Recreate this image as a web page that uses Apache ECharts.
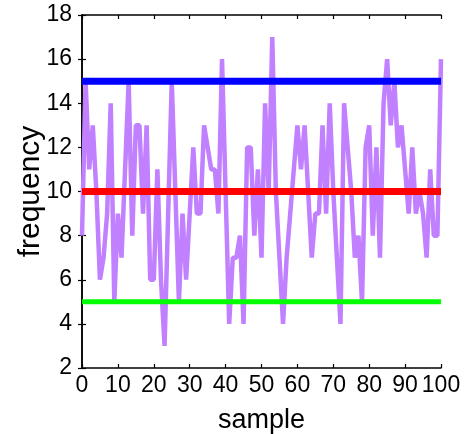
<!DOCTYPE html>
<html>
<head>
<meta charset="utf-8">
<script src="https://cdn.jsdelivr.net/npm/echarts@6/dist/echarts.min.js"></script>
<style>html,body{margin:0;padding:0;background:#fff}#c{width:466px;height:434px}</style>
</head>
<body>
<div id="c"></div>
<script>
// sample index 0..100 and frequency values
var frequency = [8,15,11,13,10,6,7,9,14,5,9,7,11,15,8,13,13,9,13,6,6,11,6,3,9,15,10,5,9,6,9,12,9,9,13,12,11,11,9,16,10,4,7,7,8,4,12,12,8,11,7,14,10,17,10,7,4,7,9,11,13,11,13,10,7,9,9,13,9,14,10,7,4,14,12,10,7,8,5,12,13,8,12,7,14,16,13,15,12,13,11,9,12,9,10,9,7,11,8,8,16];
var samples = frequency.map(function (_, i) { return i; });
var levelValues = [15, 10, 5];
var levelColors = ['#0000ff', '#ff0000', '#00ff00'];
var xTicks = [0, 10, 20, 30, 40, 50, 60, 70, 80, 90, 100];
var yTicks = [2, 4, 6, 8, 10, 12, 14, 16, 18];

var FONT = "'Liberation Sans',Arial,sans-serif";
var chart = echarts.init(document.getElementById('c'));

var series = [{
  type: 'line',
  data: samples.map(function (s, i) { return [s, frequency[i]]; }),
  symbol: 'none',
  lineStyle: { color: '#c080ff', width: 4.5 },
  z: 2,
  animation: false
}];
levelValues.forEach(function (v, k) {
  series.push({
    type: 'line',
    data: [[xTicks[0], v], [xTicks[xTicks.length - 1], v]],
    symbol: 'none',
    lineStyle: { color: levelColors[k], width: k === 2 ? 5 : 7 },
    z: 3,
    animation: false
  });
});

var axisCommon = {
  axisLine: { show: true, lineStyle: { color: '#000', width: 1.5 } },
  axisTick: { show: true, inside: true, length: 4, lineStyle: { color: '#000', width: 1.2 } },
  splitLine: { show: false }
};

chart.setOption({
  animation: false,
  grid: { left: 82, right: 25, top: 15, bottom: 66, outerBoundsMode: 'none', containLabel: false },
  xAxis: [
    Object.assign({
      type: 'value', min: 0, max: 100, interval: 10, position: 'bottom',
      name: 'sample', nameLocation: 'middle', nameGap: 39, nameMoveOverlap: false,
      nameTextStyle: { fontFamily: FONT, fontSize: 27, color: '#000' },
      axisLabel: { fontFamily: FONT, fontSize: 23, color: '#000', margin: 6 }
    }, axisCommon),
    Object.assign({
      type: 'value', min: 0, max: 100, interval: 10, position: 'top',
      axisLabel: { show: false }
    }, axisCommon)
  ],
  yAxis: [
    Object.assign({
      type: 'value', min: 2, max: 18, interval: 2, position: 'left',
      name: 'frequency', nameLocation: 'middle', nameGap: 36, nameRotate: 90, nameMoveOverlap: false,
      nameTextStyle: { fontFamily: FONT, fontSize: 30, color: '#000' },
      axisLabel: { fontFamily: FONT, fontSize: 23, color: '#000', margin: 10 }
    }, axisCommon),
    Object.assign({
      type: 'value', min: 2, max: 18, interval: 2, position: 'right',
      axisLabel: { show: false }
    }, axisCommon)
  ],
  series: series
});
</script>
</body>
</html>
